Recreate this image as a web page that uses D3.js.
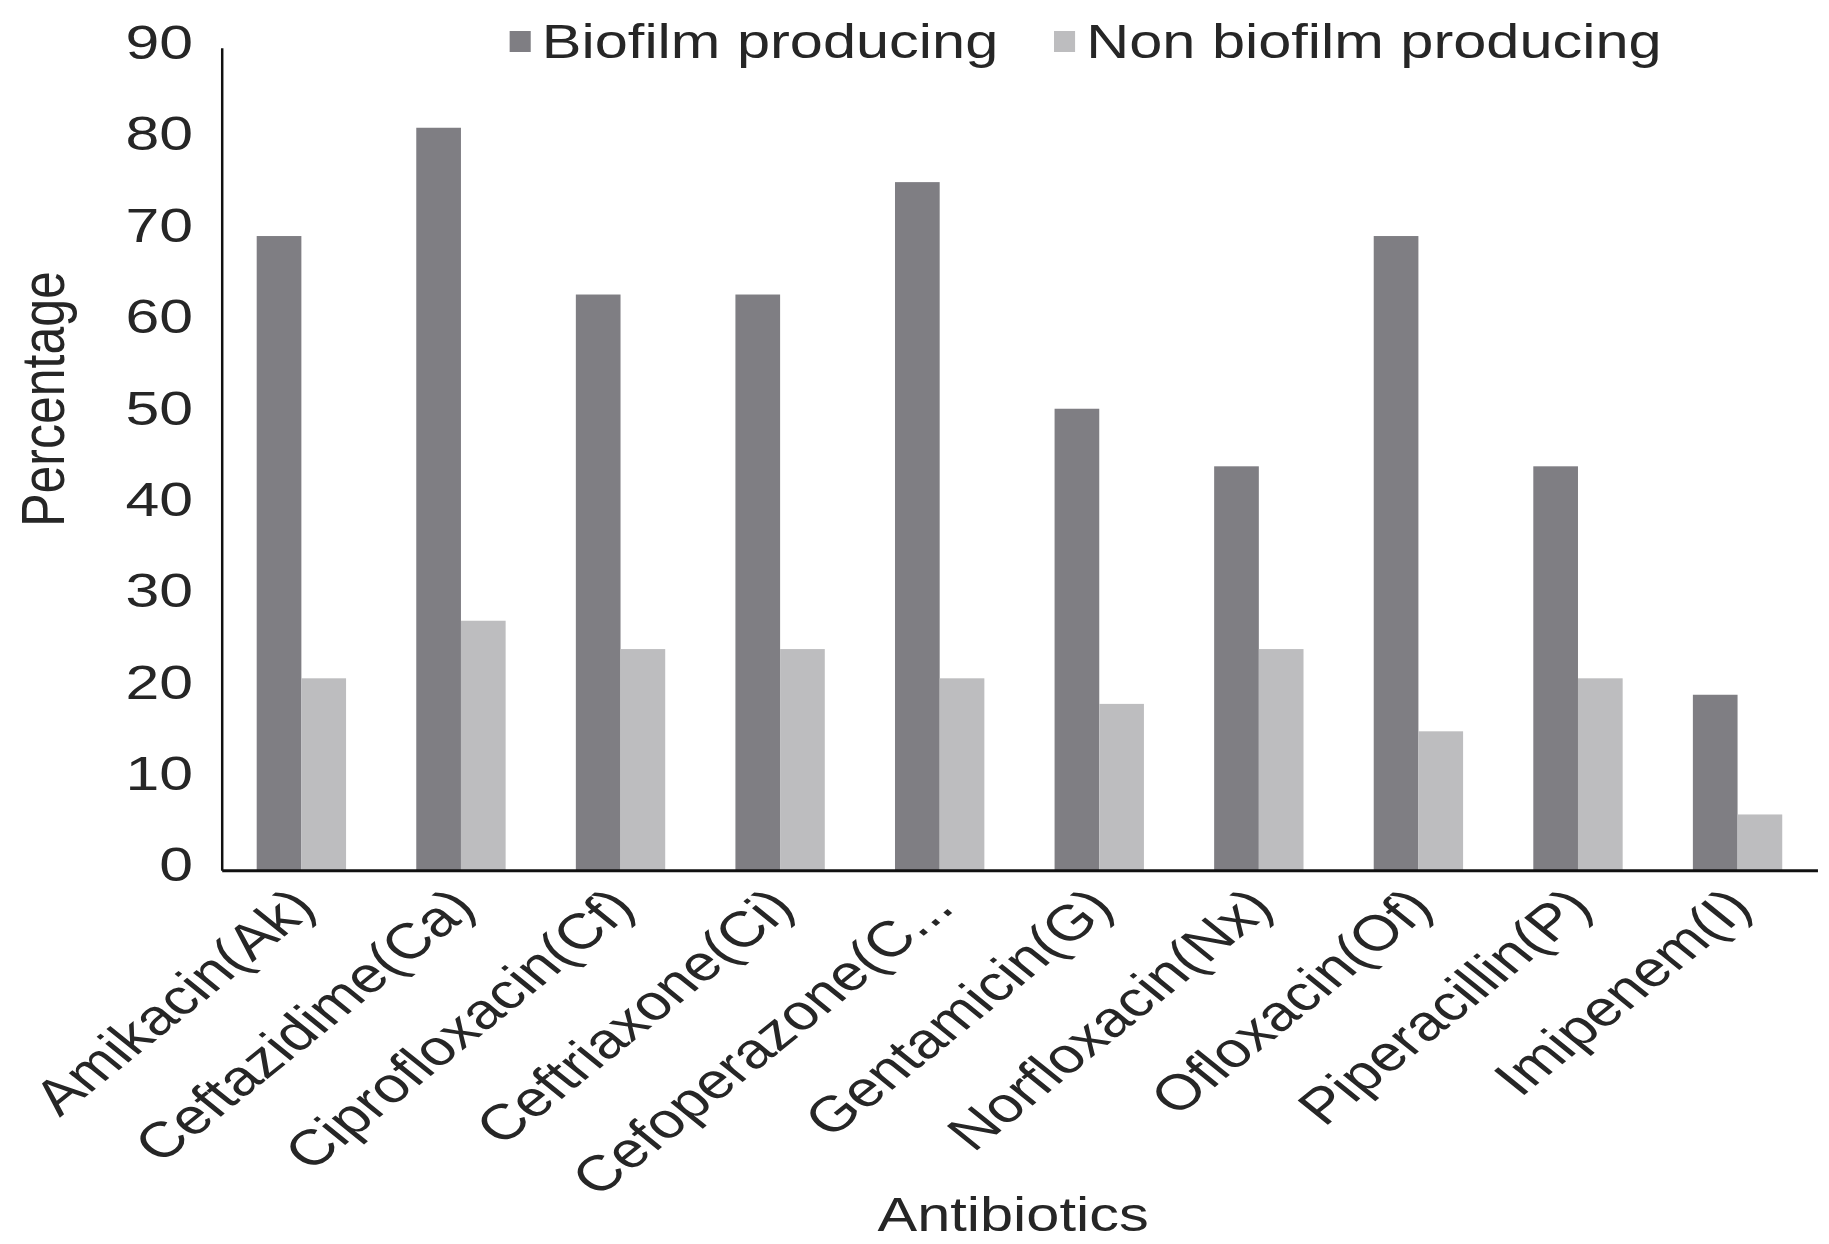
<!DOCTYPE html>
<html>
<head>
<meta charset="utf-8">
<script src="https://cdn.jsdelivr.net/npm/d3@7"></script>
<style>
  html, body { margin: 0; padding: 0; background: #ffffff; }
  svg { display: block; }
  text { font-family: "Liberation Sans", Arial, sans-serif; fill: #262626; }
</style>
</head>
<body>
<div id="chart"></div>
<script>
// Antibiotic resistance by biofilm status
const categories = [
  "Amikacin(Ak)", "Ceftazidime(Ca)", "Ciprofloxacin(Cf)", "Ceftriaxone(Ci)",
  "Cefoperazone(C...", "Gentamicin(G)", "Norfloxacin(Nx)", "Ofloxacin(Of)",
  "Piperacillin(P)", "Imipenem(I)"
];
const seriesNames = ["Biofilm producing", "Non biofilm producing"];
const biofilm = [69.4, 81.25, 63, 63, 75.3, 50.5, 44.2, 69.4, 44.2, 19.2];
const nonBiofilm = [21, 27.3, 24.2, 24.2, 21, 18.2, 24.2, 15.2, 21, 6.1];
const yTicks = [0, 10, 20, 30, 40, 50, 60, 70, 80, 90];
const colors = ["#7f7e83", "#bdbdbf"];

const W = 1829, H = 1244;
// drawing space is a little narrower than the page and stretched to fill it
const stretch = 1.24;
const LW = W / stretch;

const plotLeft = 178.7, plotRight = 1465.6, plotTop = 47.8, plotBottom = 870.2;

const svg = d3.select("#chart").append("svg")
  .attr("width", W).attr("height", H)
  .attr("viewBox", `0 0 ${LW} ${H}`)
  .attr("preserveAspectRatio", "none");

svg.append("rect").attr("width", LW).attr("height", H).attr("fill", "#ffffff");

const x0 = d3.scaleBand().domain(categories).range([plotLeft, plotRight])
  .paddingInner(0.44).paddingOuter(0.22);
const x1 = d3.scaleBand().domain(seriesNames).range([0, x0.bandwidth()]);
const y = d3.scaleLinear().domain([0, 90]).range([plotBottom, plotTop]);

const rows = categories.map((c, i) => ({ cat: c, vals: [biofilm[i], nonBiofilm[i]] }));

// bars
const groups = svg.append("g").selectAll("g").data(rows).join("g")
  .attr("transform", d => `translate(${x0(d.cat)},0)`);
groups.selectAll("rect")
  .data(d => d.vals.map((v, k) => ({ key: seriesNames[k], v, k })))
  .join("rect")
  .attr("x", d => x1(d.key))
  .attr("width", x1.bandwidth())
  .attr("y", d => y(d.v))
  .attr("height", d => y(0) - y(d.v))
  .attr("fill", d => colors[d.k]);

// y axis
const yAxis = svg.append("g").attr("transform", `translate(${plotLeft},0)`)
  .call(d3.axisLeft(y).tickValues(yTicks).tickSize(0).tickSizeOuter(0).tickPadding(23));
yAxis.select(".domain").attr("stroke", "#111").attr("stroke-width", 2);
yAxis.selectAll(".tick text")
  .attr("font-size", 49).attr("dy", "0.22em")
  .style("font-family", "'Liberation Sans', Arial, sans-serif").attr("fill", "#262626");

// x axis
const xAxis = svg.append("g").attr("transform", `translate(0,${plotBottom})`)
  .call(d3.axisBottom(x0).tickSize(0).tickSizeOuter(0));
xAxis.select(".domain").attr("stroke", "#111").attr("stroke-width", 3);
xAxis.selectAll(".tick text")
  .attr("font-size", 50)
  .attr("text-anchor", "end")
  .attr("x", 0).attr("y", 0).attr("dy", "0.35em")
  .attr("transform", "translate(1,27) rotate(-45)")
  .style("font-family", "'Liberation Sans', Arial, sans-serif").attr("fill", "#262626");

// axis titles
svg.append("text")
  .attr("transform", `translate(52,399) rotate(-90)`)
  .attr("text-anchor", "middle")
  .attr("font-size", 50)
  .text("Percentage");
svg.append("text")
  .attr("x", 817).attr("y", 1231)
  .attr("text-anchor", "middle")
  .attr("font-size", 48)
  .text("Antibiotics");

// legend
const legendX = [411, 850];
const legend = svg.append("g").selectAll("g").data(seriesNames).join("g")
  .attr("transform", (d, i) => `translate(${legendX[i]},0)`);
legend.append("rect")
  .attr("x", 0).attr("y", 31).attr("width", 17).attr("height", 21)
  .attr("fill", (d, i) => colors[i]);
legend.append("text")
  .attr("x", 26).attr("y", 58)
  .attr("font-size", 48)
  .text(d => d);
</script>
</body>
</html>
